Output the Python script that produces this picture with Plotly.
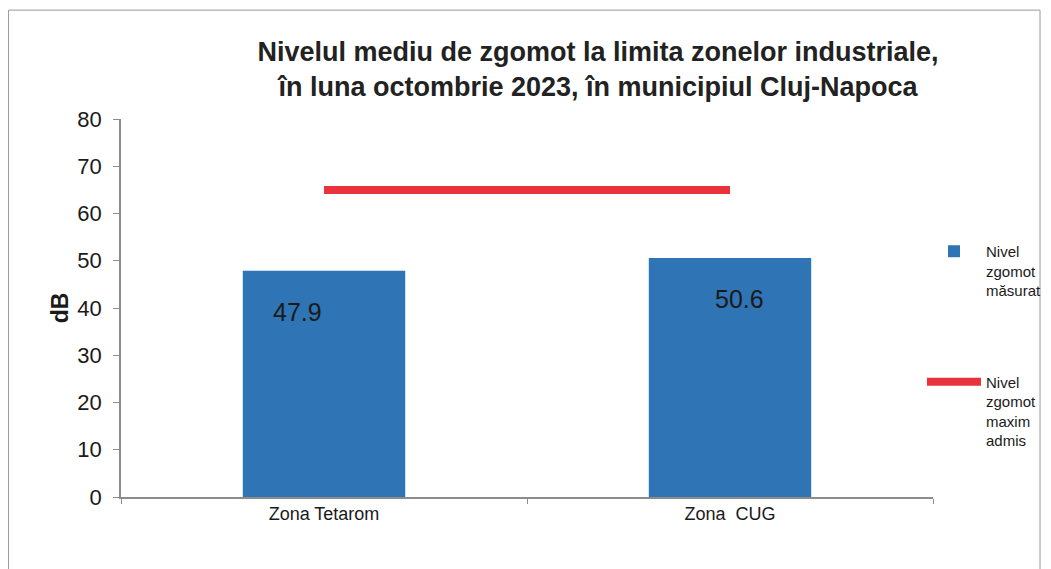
import plotly.graph_objects as go

categories = ["Zona Tetarom", "Zona  CUG"]
measured = [47.9, 50.6]
max_admis = [65, 65]
y_ticks = [0, 10, 20, 30, 40, 50, 60, 70, 80]
title_text = ("Nivelul mediu de zgomot la limita zonelor industriale,<br>"
              "în luna octombrie 2023, în municipiul Cluj-Napoca")
name_bar = "Nivel<br>zgomot<br>măsurat"
name_line = "Nivel<br>zgomot<br>maxim<br>admis"

BLUE = "#2F74B5"
RED = "#E8323C"
FONT = "Liberation Sans, Arial, sans-serif"

fig = go.Figure()
fig.add_trace(go.Bar(
    x=categories, y=measured, name=name_bar, legendgroup="a",
    marker=dict(color=BLUE, line=dict(width=0)), width=0.4,
))
fig.add_trace(go.Scatter(
    x=categories, y=max_admis, name=name_line, legendgroup="b",
    mode="lines", line=dict(color=RED, width=8),
))

# data labels placed inside the bars, just below their tops
label_xshift = [-27, 9]
for cat, val, xs in zip(categories, measured, label_xshift):
    fig.add_annotation(x=cat, y=val, text=f"{val}", showarrow=False,
                       yanchor="middle", yshift=-41, xshift=xs,
                       font=dict(family=FONT, size=25, color="#1a1a1a"))

fig.update_layout(
    width=1043, height=561,
    paper_bgcolor="white", plot_bgcolor="white",
    margin=dict(l=113, r=118, t=111, b=72, autoexpand=False),
    font=dict(family=FONT, color="#1a1a1a"),
    title=dict(text=title_text, xref="container", x=0.5657, xanchor="center",
               yref="container", y=0.9055, yanchor="middle",
               font=dict(family="Liberation Sans Narrow, Arial Narrow, sans-serif",
                         size=27, color="#222222", weight="bold")),
    legend=dict(xref="container", x=0.8763, xanchor="left",
                yref="container", y=0.5954, yanchor="top", valign="top",
                font=dict(family=FONT, size=15, color="#1a1a1a"),
                traceorder="grouped", tracegroupgap=69,
                bgcolor="rgba(0,0,0,0)", itemwidth=54),
    showlegend=True,
    bargap=0.6,
)
fig.update_xaxes(
    range=[-0.5, 1.5], showline=True, linecolor="#8c8c8c", linewidth=1.5,
    ticks="outside", tickson="boundaries", ticklen=5, tickcolor="#8c8c8c",
    tickfont=dict(family=FONT, size=18, color="#1a1a1a"), showgrid=False,
)
fig.update_yaxes(
    range=[0, 80], tickvals=y_ticks, showline=True, linecolor="#8c8c8c", linewidth=1.5,
    ticks="outside", ticklen=6, tickcolor="#8c8c8c", showgrid=False, zeroline=False,
    ticklabelstandoff=7,
    tickfont=dict(family=FONT, size=22, color="#1a1a1a"),
    title=dict(text="<b>dB</b>", font=dict(family=FONT, size=23, color="#1a1a1a"), standoff=2),
)
fig.add_shape(type="rect", xref="paper", yref="paper",
              x0=-0.1385, x1=1.1318, y0=-0.3, y1=1.288,
              line=dict(color="#9a9a9a", width=1), layer="below")

fig.write_html("out.html")
